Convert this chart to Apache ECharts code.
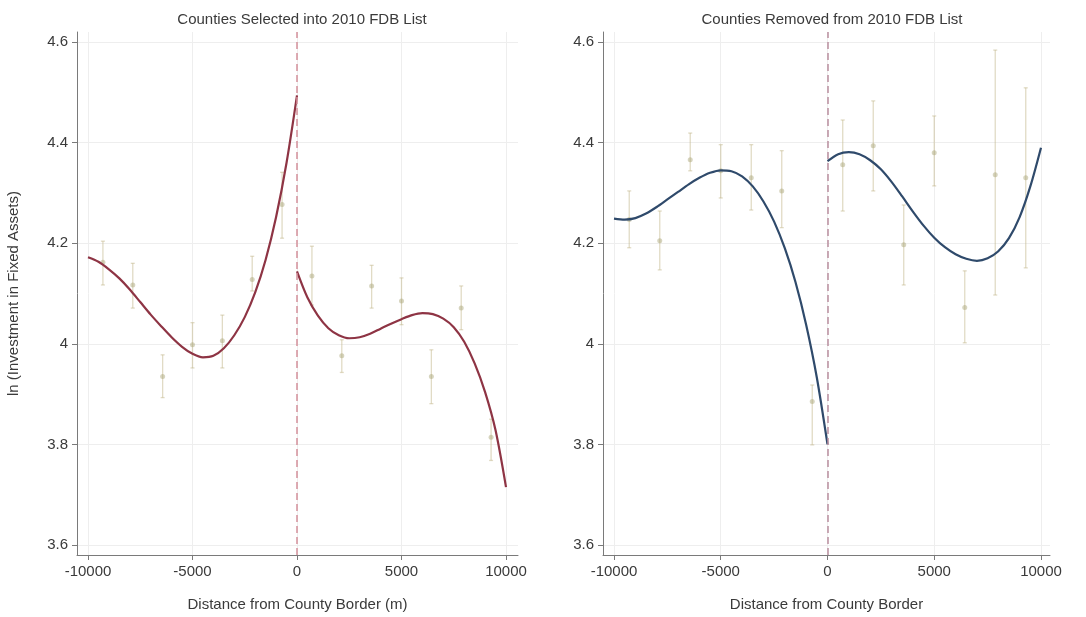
<!DOCTYPE html>
<html>
<head>
<meta charset="utf-8">
<title>Investment in Fixed Assets around County Borders</title>
<script src="https://cdn.jsdelivr.net/npm/echarts@6/dist/echarts.min.js"></script>
<style>
  html, body { margin: 0; padding: 0; background: #ffffff; }
  #chart { width: 1086px; height: 617px; }
</style>
</head>
<body>
<div id="chart"></div>
<script>
// Bin midpoints (m), 7 bins of equal width on each side of the border
const binCenters = [-9286, -7857, -6429, -5000, -3571, -2143, -714, 714, 2143, 3571, 5000, 6429, 7857, 9286];

// Counties selected into the 2010 FDB list: bin means and confidence bounds
const selMean  = [4.162, 4.117, 3.935, 3.998, 4.006, 4.128, 4.277, 4.135, 3.976, 4.115, 4.085, 3.935, 4.071, 3.814];
const selLower = [4.117, 4.071, 3.893, 3.952, 3.952, 4.105, 4.210, 4.077, 3.943, 4.071, 4.038, 3.881, 4.028, 3.768];
const selUpper = [4.204, 4.160, 3.978, 4.042, 4.057, 4.174, 4.341, 4.194, 4.008, 4.156, 4.131, 3.988, 4.115, 3.850];

// Counties removed from the 2010 FDB list: bin means and confidence bounds
const remMean  = [4.247, 4.205, 4.366, 4.344, 4.330, 4.304, 3.885, 4.356, 4.394, 4.197, 4.380, 4.072, 4.336, 4.330];
const remLower = [4.191, 4.147, 4.344, 4.290, 4.266, 4.231, 3.799, 4.264, 4.304, 4.117, 4.314, 4.002, 4.097, 4.151];
const remUpper = [4.304, 4.264, 4.419, 4.396, 4.396, 4.384, 3.918, 4.445, 4.483, 4.276, 4.453, 4.145, 4.584, 4.509];

// Fitted polynomial curves, sampled every 500 m on each side of the border
const selFitLeft = [
  [-10000, 4.172], [-9500, 4.163], [-9000, 4.148], [-8500, 4.130], [-8000, 4.108],
  [-7500, 4.083], [-7000, 4.058], [-6500, 4.035], [-6000, 4.013], [-5500, 3.994],
  [-5000, 3.980], [-4500, 3.973], [-4000, 3.976], [-3500, 3.991], [-3000, 4.017],
  [-2500, 4.053], [-2000, 4.102], [-1500, 4.167], [-1000, 4.252], [-500, 4.360], [0, 4.494]
];
const selFitRight = [
  [0, 4.144], [500, 4.092], [1000, 4.056], [1500, 4.031], [2000, 4.017],
  [2500, 4.011], [3000, 4.013], [3500, 4.020], [4000, 4.030], [4500, 4.040],
  [5000, 4.049], [5500, 4.057], [6000, 4.061], [6500, 4.059], [7000, 4.050],
  [7500, 4.033], [8000, 4.004], [8500, 3.961], [9000, 3.904], [9500, 3.828],
  [10000, 3.715]
];
const remFitLeft = [
  [-10000, 4.249], [-9500, 4.247], [-9000, 4.250], [-8500, 4.259], [-8000, 4.272],
  [-7500, 4.287], [-7000, 4.302], [-6500, 4.317], [-6000, 4.330], [-5500, 4.340],
  [-5000, 4.345], [-4500, 4.343], [-4000, 4.333], [-3500, 4.313], [-3000, 4.283],
  [-2500, 4.243], [-2000, 4.190], [-1500, 4.123], [-1000, 4.038], [-500, 3.933], [0, 3.800]
];
const remFitRight = [
  [0, 4.363], [500, 4.377], [1000, 4.381], [1500, 4.377], [2000, 4.365],
  [2500, 4.347], [3000, 4.322], [3500, 4.293], [4000, 4.263], [4500, 4.235],
  [5000, 4.211], [5500, 4.192], [6000, 4.178], [6500, 4.169], [7000, 4.165],
  [7500, 4.170], [8000, 4.184], [8500, 4.210], [9000, 4.252], [9500, 4.313], [10000, 4.390]
];

// Axis tick values and labels
const xTicks = [-10000, -5000, 0, 5000, 10000];
const yTicks = [3.6, 3.8, 4.0, 4.2, 4.4, 4.6];

const panelTitles = ['Counties Selected into 2010 FDB List', 'Counties Removed from 2010 FDB List'];
const xTitles = ['Distance from County Border (m)', 'Distance from County Border'];
const yTitle = 'ln (Investment in Fixed Assets)';

const FONT = '"Liberation Sans", Arial, sans-serif';
const TEXT = '#3a3a3a';
const AXIS = '#7a7a7a';
const GRIDLINE = '#eeeeee';
const CI_COLOR = 'rgba(196, 184, 140, 0.5)';
const DOT_COLOR = 'rgba(170, 165, 120, 0.6)';

function zip(xs, ys) { return xs.map((x, i) => [x, ys[i]]); }
function ciRows(lo, hi) { return binCenters.map((x, i) => [x, lo[i], hi[i]]); }

function xAxis(gridIndex, min, max, name) {
  return {
    type: 'value', gridIndex, min, max,
    name, nameLocation: 'middle', nameGap: 42,
    nameTextStyle: { fontFamily: FONT, fontSize: 15, color: TEXT },
    axisLine: { show: true, onZero: false, lineStyle: { color: AXIS, width: 1 } },
    axisTick: { show: true, length: 5, customValues: xTicks, lineStyle: { color: AXIS } },
    axisLabel: {
      customValues: xTicks, margin: 9, fontFamily: FONT, fontSize: 15, color: TEXT,
      formatter: v => String(v)
    },
    splitLine: { show: true, lineStyle: { color: GRIDLINE, width: 1 } }
  };
}

function yAxis(gridIndex, name) {
  return {
    type: 'value', gridIndex, min: 3.58, max: 4.62,
    name, nameLocation: 'middle', nameGap: 56,
    nameTextStyle: { fontFamily: FONT, fontSize: 15, color: TEXT },
    axisLine: { show: true, onZero: false, lineStyle: { color: AXIS, width: 1 } },
    axisTick: { show: true, length: 5, customValues: yTicks, lineStyle: { color: AXIS } },
    axisLabel: {
      customValues: yTicks, margin: 9, fontFamily: FONT, fontSize: 15, color: TEXT,
      formatter: v => String(Math.round(v * 10) / 10)
    },
    splitLine: { show: true, lineStyle: { color: GRIDLINE, width: 1 } }
  };
}

function errorBars(axisIndex, rows) {
  return {
    type: 'custom', xAxisIndex: axisIndex, yAxisIndex: axisIndex,
    data: rows, encode: { x: 0, y: [1, 2] }, z: 1,
    renderItem: (params, api) => {
      const x = api.value(0);
      const top = api.coord([x, api.value(2)]);
      const bot = api.coord([x, api.value(1)]);
      const style = { stroke: CI_COLOR, lineWidth: 1.3 };
      return {
        type: 'group',
        children: [
          { type: 'line', shape: { x1: top[0], y1: top[1], x2: bot[0], y2: bot[1] }, style },
          { type: 'line', shape: { x1: top[0] - 2, y1: top[1], x2: top[0] + 2, y2: top[1] }, style },
          { type: 'line', shape: { x1: bot[0] - 2, y1: bot[1], x2: bot[0] + 2, y2: bot[1] }, style }
        ]
      };
    }
  };
}

function dots(axisIndex, means) {
  return {
    type: 'scatter', xAxisIndex: axisIndex, yAxisIndex: axisIndex,
    data: zip(binCenters, means), symbol: 'circle', symbolSize: 5, z: 2,
    itemStyle: { color: DOT_COLOR }
  };
}

function fit(axisIndex, pts, color, border) {
  const s = {
    type: 'line', xAxisIndex: axisIndex, yAxisIndex: axisIndex,
    data: pts, smooth: 0.3, showSymbol: false, z: 4,
    lineStyle: { color, width: 2.2 }
  };
  if (border) {
    s.markLine = {
      silent: true, symbol: 'none', animation: false,
      label: { show: false },
      lineStyle: { color: border, type: [7, 4], width: 1.5 },
      data: [{ xAxis: 0 }]
    };
  }
  return s;
}

const chart = echarts.init(document.getElementById('chart'), null, { renderer: 'canvas' });
chart.setOption({
  animation: false,
  backgroundColor: '#ffffff',
  title: [
    { text: panelTitles[0], left: 297, top: 7, textAlign: 'center',
      textStyle: { fontFamily: FONT, fontSize: 15, fontWeight: 'normal', color: TEXT } },
    { text: panelTitles[1], left: 827, top: 7, textAlign: 'center',
      textStyle: { fontFamily: FONT, fontSize: 15, fontWeight: 'normal', color: TEXT } }
  ],
  grid: [
    { left: 77, top: 32, width: 441, height: 526 },
    { left: 603, top: 32, width: 447, height: 526 }
  ],
  xAxis: [
    xAxis(0, -10526, 10574, xTitles[0]),
    xAxis(1, -10515, 10422, xTitles[1])
  ],
  yAxis: [
    yAxis(0, yTitle),
    yAxis(1, '')
  ],
  series: [
    errorBars(0, ciRows(selLower, selUpper)),
    dots(0, selMean),
    fit(0, selFitLeft, '#8e3444', '#d4909a'),
    fit(0, selFitRight, '#8e3444', null),
    errorBars(1, ciRows(remLower, remUpper)),
    dots(1, remMean),
    fit(1, remFitLeft, '#2f4a6b', '#b98f9f'),
    fit(1, remFitRight, '#2f4a6b', null)
  ]
});
</script>
</body>
</html>
